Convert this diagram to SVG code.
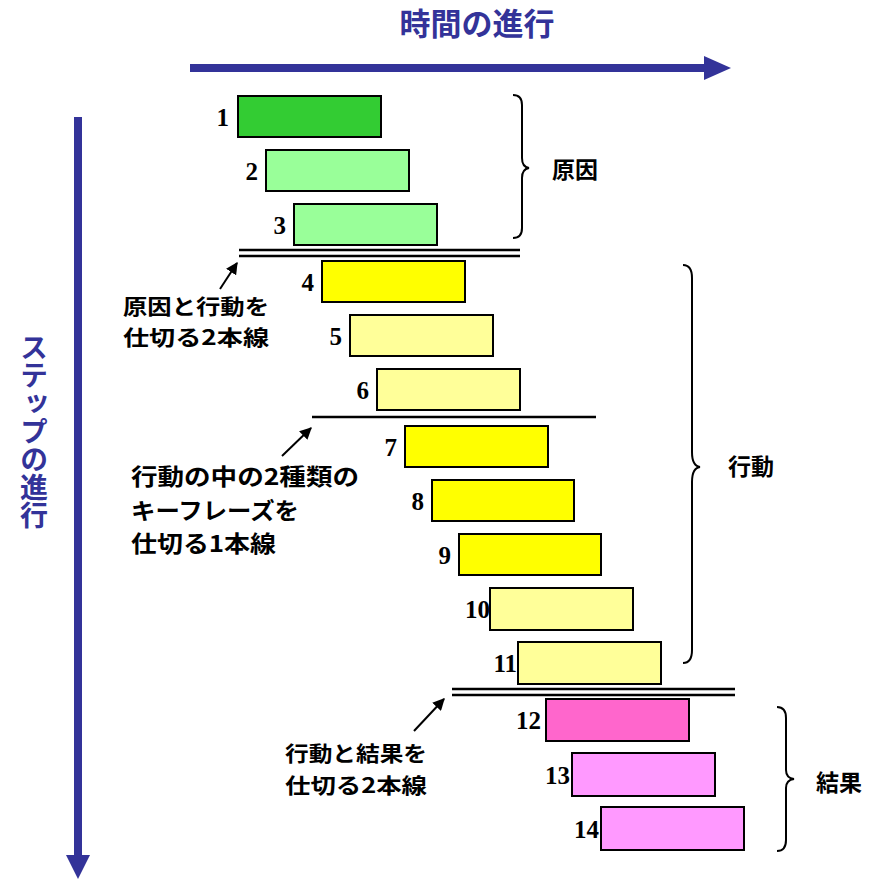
<svg xmlns="http://www.w3.org/2000/svg" width="870" height="879" viewBox="0 0 870 879">
<defs>
<style>
.box{stroke:#000;stroke-width:2}
.num{font-family:"Liberation Serif",serif;font-weight:bold;font-size:25px;text-anchor:end;fill:#000}
.jp{font-family:"Noto Sans CJK JP","Liberation Sans",sans-serif;font-weight:bold;font-size:23px;fill:#000}
.jp2{font-family:"Noto Sans CJK JP","Liberation Sans",sans-serif;font-weight:bold;font-size:21px;fill:#000}
.blue{font-family:"Noto Sans CJK JP","Liberation Sans",sans-serif;font-weight:bold;font-size:31px;fill:#333399}
.brace{fill:none;stroke:#000;stroke-width:2}
.sep{stroke:#000;stroke-width:2.5}
.ptr{stroke:#000;stroke-width:2;marker-end:url(#ah)}
</style>
<marker id="ah" viewBox="0 0 10 10" refX="9" refY="5" markerWidth="6" markerHeight="6" orient="auto" markerUnits="strokeWidth">
<path d="M0,0 L10,5 L0,10 z" fill="#000"/>
</marker>
</defs>
<rect width="870" height="879" fill="#fff"/>

<g id="axes">
<text class="blue" x="477" y="35" text-anchor="middle">時間の進行</text>
<rect x="190" y="64" width="516" height="8" fill="#333399"/>
<path d="M704,56 L731,68 L704,80 z" fill="#333399"/>
<rect x="74" y="117" width="8" height="740" fill="#333399"/>
<path d="M66,855 L78,879 L90,855 z" fill="#333399"/>
<text class="blue" x="34" y="333" style="writing-mode:vertical-rl;font-size:28px">ステップの進行</text>
</g>

<g id="n1"><rect class="box" x="238" y="96" width="143" height="41" fill="#33CC33"/><text class="num" x="229" y="126">1</text></g>
<g id="n2"><rect class="box" x="266" y="150" width="143" height="41" fill="#99FF99"/><text class="num" x="258" y="180">2</text></g>
<g id="n3"><rect class="box" x="294" y="204" width="143" height="41" fill="#99FF99"/><text class="num" x="286" y="234">3</text></g>
<g id="n4"><rect class="box" x="322" y="261" width="143" height="41" fill="#FFFF00"/><text class="num" x="314" y="291">4</text></g>
<g id="n5"><rect class="box" x="350" y="315" width="143" height="41" fill="#FFFF99"/><text class="num" x="342" y="345">5</text></g>
<g id="n6"><rect class="box" x="377" y="369" width="143" height="41" fill="#FFFF99"/><text class="num" x="369" y="399">6</text></g>
<g id="n7"><rect class="box" x="405" y="426" width="143" height="41" fill="#FFFF00"/><text class="num" x="397" y="456">7</text></g>
<g id="n8"><rect class="box" x="432" y="480" width="142" height="41" fill="#FFFF00"/><text class="num" x="424" y="510">8</text></g>
<g id="n9"><rect class="box" x="459" y="534" width="142" height="41" fill="#FFFF00"/><text class="num" x="451" y="564">9</text></g>
<g id="n10"><rect class="box" x="490" y="588" width="143" height="42" fill="#FFFF99"/><text class="num" x="490" y="618">10</text></g>
<g id="n11"><rect class="box" x="518" y="642" width="143" height="42" fill="#FFFF99"/><text class="num" x="517" y="672">11</text></g>
<g id="n12"><rect class="box" x="546" y="699" width="143" height="42" fill="#FF66CC"/><text class="num" x="541" y="729">12</text></g>
<g id="n13"><rect class="box" x="572" y="753" width="143" height="43" fill="#FF99FF"/><text class="num" x="570" y="784">13</text></g>
<g id="n14"><rect class="box" x="601" y="807" width="143" height="43" fill="#FF99FF"/><text class="num" x="599" y="838">14</text></g>

<g id="groups">
<path class="brace" d="M513,95 Q522,95 522,105 L522,158 Q522,167 529,168 Q522,169 522,178 L522,228 Q522,238 513,238"/>
<text class="jp" x="552" y="178">原因</text>
<path class="brace" d="M683,265 Q692,265 692,278 L692,452 Q692,466 700,467 Q692,468 692,482 L692,650 Q692,663 683,663"/>
<text class="jp" x="728" y="475">行動</text>
<path class="brace" d="M777,707 Q786,707 786,718 L786,770 Q786,778 794,779 Q786,780 786,788 L786,840 Q786,851 777,851"/>
<text class="jp" x="816" y="791">結果</text>
</g>

<g id="connectors">
<line class="sep" x1="239" y1="250" x2="520" y2="250"/>
<line class="sep" x1="239" y1="256" x2="520" y2="256"/>
<line class="sep" x1="312" y1="417" x2="596" y2="417"/>
<line class="sep" x1="452" y1="689" x2="735" y2="689"/>
<line class="sep" x1="452" y1="695" x2="735" y2="695"/>
<line class="ptr" x1="220" y1="289" x2="237" y2="263"/>
<line class="ptr" x1="282" y1="456" x2="311" y2="428"/>
<line class="ptr" x1="414" y1="731" x2="444" y2="699"/>
</g>

<g id="notes">
<text class="jp2" x="123" y="314" textLength="146" lengthAdjust="spacingAndGlyphs">原因と行動を</text>
<text class="jp2" x="123" y="345" textLength="146" lengthAdjust="spacingAndGlyphs">仕切る2本線</text>
<text class="jp" x="131" y="485" textLength="228" lengthAdjust="spacingAndGlyphs">行動の中の2種類の</text>
<text class="jp" x="131" y="519" textLength="168" lengthAdjust="spacingAndGlyphs">キーフレーズを</text>
<text class="jp" x="131" y="552" textLength="145" lengthAdjust="spacingAndGlyphs">仕切る1本線</text>
<text class="jp2" x="285" y="761" textLength="142" lengthAdjust="spacingAndGlyphs">行動と結果を</text>
<text class="jp2" x="285" y="793" textLength="142" lengthAdjust="spacingAndGlyphs">仕切る2本線</text>
</g>
</svg>
